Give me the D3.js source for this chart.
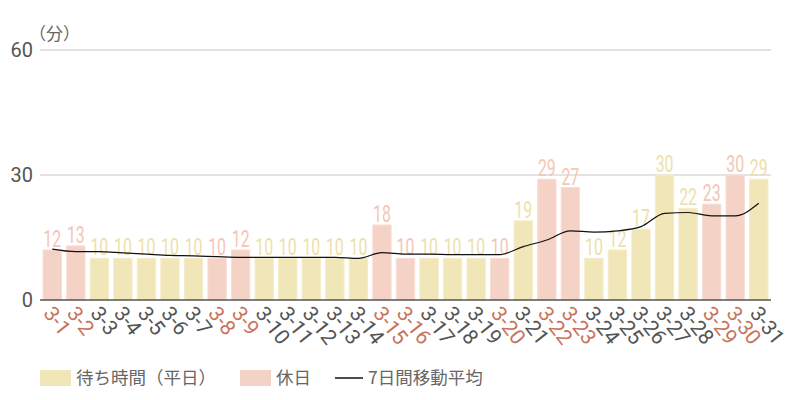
<!DOCTYPE html>
<html>
<head>
<meta charset="utf-8">
<script src="https://cdn.jsdelivr.net/npm/d3@7"></script>
<style>
    body { margin: 0; background: #fff; }
    svg { display: block; }
</style>
</head>
<body>
<div id="chart"></div>
<script>
var days = ["3-1", "3-2", "3-3", "3-4", "3-5", "3-6", "3-7", "3-8", "3-9", "3-10",
    "3-11", "3-12", "3-13", "3-14", "3-15", "3-16", "3-17", "3-18", "3-19", "3-20",
    "3-21", "3-22", "3-23", "3-24", "3-25", "3-26", "3-27", "3-28", "3-29", "3-30", "3-31"];
var waitMinutes = [12, 13, 10, 10, 10, 10, 10, 10, 12, 10, 10, 10, 10, 10, 18, 10,
    10, 10, 10, 10, 19, 29, 27, 10, 12, 17, 30, 22, 23, 30, 29];
var holidays = ["3-1", "3-2", "3-8", "3-9", "3-15", "3-16", "3-20", "3-22", "3-23", "3-29", "3-30"];
var movingAvg = [12.2, 11.6, 11.6, 11.3, 11.0, 10.7, 10.6, 10.4, 10.25, 10.25, 10.25,
    10.25, 10.25, 10.0, 11.35, 11.0, 11.0, 10.9, 10.9, 10.9, 12.8, 14.4, 16.6, 16.3,
    16.6, 17.6, 20.8, 21.0, 20.2, 20.2, 23.2];
var yTicks = [0, 30, 60];
var legendItems = ["待ち時間（平日）", "休日", "7日間移動平均"];

var width = 800, height = 400;
var weekdayColor = "#f1e6b8";
var holidayColor = "#f5d2c6";
var weekdayText = "#eee0ab";
var holidayText = "#f3c6b6";
var holidayTick = "#c8735a";

var svg = d3.select("#chart").append("svg")
    .attr("width", width)
    .attr("height", height);

var x = d3.scaleBand()
    .domain(days)
    .range([40, 771])
    .paddingInner(0.22)
    .paddingOuter(0.13);

var y = d3.scaleLinear()
    .domain([0, 60])
    .range([300, 50]);

var isHoliday = function (d) {
    return holidays.indexOf(d) >= 0;
}

//grid lines
svg.append("g").selectAll("line")
    .data(yTicks.filter(function (t) { return t > 0; }))
    .enter().append("line")
    .attr("x1", 40)
    .attr("x2", 771)
    .attr("y1", function (d) { return y(d); })
    .attr("y2", function (d) { return y(d); })
    .attr("stroke", "#c8c8c8")
    .attr("stroke-width", 1);

//y labels
svg.append("g").selectAll("text")
    .data(yTicks)
    .enter().append("text")
    .attr("x", 33)
    .attr("y", function (d) { return y(d); })
    .attr("dy", "0.35em")
    .attr("text-anchor", "end")
    .attr("font-family", "Roboto, sans-serif")
    .attr("font-size", 20)
    .attr("fill", "#555")
    .text(function (d) { return d; });

svg.append("text")
    .attr("x", 29)
    .attr("y", 40)
    .attr("font-family", "'Noto Sans CJK JP', sans-serif")
    .attr("font-size", 17)
    .attr("fill", "#666")
    .text("（分）");

//bars
var data = days.map(function (d, i) {
    return { day: d, value: waitMinutes[i], avg: movingAvg[i] };
});

svg.append("g").selectAll("rect")
    .data(data)
    .enter().append("rect")
    .attr("x", function (d) { return x(d.day); })
    .attr("y", function (d) { return y(d.value); })
    .attr("width", x.bandwidth())
    .attr("height", function (d) { return y(0) - y(d.value); })
    .attr("fill", function (d) { return isHoliday(d.day) ? holidayColor : weekdayColor; })
    .attr("stroke", function (d) { return isHoliday(d.day) ? "#f8ded5" : "#f5edc9"; })
    .attr("stroke-width", 1);

//value labels (narrowed to look condensed)
svg.append("g").selectAll("text")
    .data(data)
    .enter().append("text")
    .attr("transform", function (d) {
        return "translate(" + (x(d.day) + x.bandwidth() / 2) + "," + (y(d.value) - 3) + ") scale(0.66,1)";
    })
    .attr("text-anchor", "middle")
    .attr("font-family", "Roboto, sans-serif")
    .attr("font-size", 24)
    .attr("fill", function (d) { return isHoliday(d.day) ? holidayText : weekdayText; })
    .text(function (d) { return d.value; });

//moving average
var line = d3.line()
    .x(function (d) { return x(d.day) + x.bandwidth() / 2; })
    .y(function (d) { return y(d.avg); })
    .curve(d3.curveMonotoneX);

svg.append("path")
    .datum(data)
    .attr("d", line)
    .attr("fill", "none")
    .attr("stroke", "#111")
    .attr("stroke-width", 1.2);

//baseline
svg.append("line")
    .attr("x1", 40)
    .attr("x2", 771)
    .attr("y1", y(0))
    .attr("y2", y(0))
    .attr("stroke", "#555")
    .attr("stroke-width", 1.5);

//x labels
svg.append("g").selectAll("text")
    .data(days)
    .enter().append("text")
    .attr("transform", function (d) {
        return "translate(" + (x(d) + x.bandwidth() / 2 - 4) + ",309) rotate(52)";
    })
    .attr("dy", "0.35em")
    .attr("font-family", "Roboto, sans-serif")
    .attr("font-size", 21)
    .attr("fill", function (d) { return isHoliday(d) ? holidayTick : "#555"; })
    .text(function (d) { return d; });

//legend
var legend = svg.append("g").attr("font-family", "'Noto Sans CJK JP', sans-serif")
    .attr("font-size", 17.5)
    .attr("fill", "#666");

legend.append("rect").attr("x", 40).attr("y", 370).attr("width", 31).attr("height", 16).attr("fill", weekdayColor);
legend.append("text").attr("x", 76).attr("y", 378).attr("dy", "0.35em").text(legendItems[0]);
legend.append("rect").attr("x", 240).attr("y", 370).attr("width", 31).attr("height", 16).attr("fill", holidayColor);
legend.append("text").attr("x", 276).attr("y", 378).attr("dy", "0.35em").text(legendItems[1]);
legend.append("line").attr("x1", 335).attr("x2", 363).attr("y1", 378).attr("y2", 378)
    .attr("stroke", "#111").attr("stroke-width", 1.5);
legend.append("text").attr("x", 368).attr("y", 378).attr("dy", "0.35em").text(legendItems[2]);
</script>
</body>
</html>
